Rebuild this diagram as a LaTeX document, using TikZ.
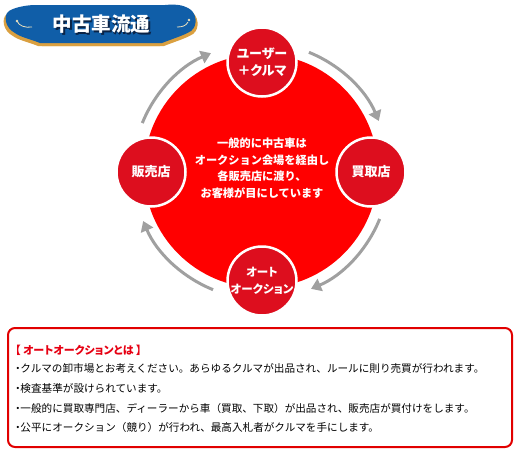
\documentclass[tikz,border=0pt]{standalone}
\usepackage{fontspec}
\newfontfamily\jp[RawFeature=+palt]{Noto Sans CJK JP}
\newfontfamily\jpf{Noto Sans CJK JP}
\usetikzlibrary{arrows.meta}
\definecolor{bigred}{RGB}{255,0,0}
\definecolor{crimson}{RGB}{221,14,30}
\definecolor{arrgray}{RGB}{160,160,160}
\definecolor{boxred}{RGB}{225,0,0}
\definecolor{titlered}{RGB}{230,0,18}
\definecolor{bannerblue}{RGB}{16,94,168}
\definecolor{bannergold}{RGB}{218,160,64}
\definecolor{shadownavy}{RGB}{10,35,70}
\definecolor{swirl}{RGB}{235,225,190}
\newcommand{\bul}{{\jp ・}}
\tikzset{
  stagec/.style={circle, fill=crimson, draw=white, line width=2.5pt, minimum size=69pt, inner sep=0pt,
    text=white, align=center, font=\jp\bfseries\fontsize{13}{17}\selectfont},
  cyclearr/.style={draw=arrgray, line width=3pt, -{Triangle[length=10pt,width=13pt]}},
  bodyline/.style={anchor=west, inner sep=0pt, font=\jpf\fontsize{10.6}{12}\selectfont}
}
\def\bannerpath{(35,5) -- (165,5) .. controls (175,4) and (183,5) .. (188,8)
  .. controls (197,12) and (198,26) .. (191,31) .. controls (185,35) and (172,39) .. (162,43)
  -- (40,43) .. controls (30,39) and (20,37) .. (15,33) .. controls (5,28) and (3,15) .. (9,11)
  .. controls (15,7) and (28,5) .. (35,5) -- cycle}
\begin{document}
\begin{tikzpicture}[x=1pt,y=-1pt]
\useasboundingbox (0,0) rectangle (519,450);
% banner
\fill[bannergold, shift={(-2,3)}] \bannerpath;
\fill[bannergold, shift={(2,3)}] \bannerpath;
\fill[bannerblue] \bannerpath;
\fill[swirl] (17,21) circle[radius=1.4];
\draw[swirl, line width=0.8pt] (17,21) .. controls (19,26) and (25,28) .. (32,27);
\fill[swirl] (189,20) circle[radius=1.4];
\draw[swirl, line width=0.8pt] (188,22) .. controls (186,26) and (182,27) .. (177,27);
\node[text=shadownavy, font=\jp\bfseries\fontsize{19.5}{19.5}\selectfont] (titleshadow) at (103,26) {中古車流通};
\node[text=white, font=\jp\bfseries\fontsize{19.5}{19.5}\selectfont] (title) at (101.5,24.5) {中古車流通};
% big circle
\coordinate (c) at (261,171);
\fill[bigred] (c) circle[radius=117];
% cycle arrows
\foreach \a in {-158,-68,22,112}
  \draw[cyclearr] ([shift={(\a:128)}]c) arc[start angle=\a, delta angle=45, radius=128];
% stage circles
\node[stagec] (user) at (262,62) {ユーザー\\＋クルマ};
\node[stagec] (buy) at (371,172) {買取店};
\node[stagec, font=\jp\bfseries\fontsize{11.5}{17}\selectfont] (auction) at (262,281) {オート\\オークション};
\node[stagec] (sell) at (151,172) {販売店};
% center text
\node[text=white, align=center, font=\jpf\bfseries\fontsize{11.2}{16.5}\selectfont] (centre) at (262,168)
  {一般的に中古車は\\オークション会場を経由し\\各販売店に渡り、\\お客様が目にしています};
% info box
\draw[boxred, line width=2pt, rounded corners=7pt] (8,328) rectangle (512,447);
\node[bodyline, text=titlered, font=\jp\bfseries\fontsize{11}{12}\selectfont] (boxtitle) at (15,350) {【 オートオークションとは 】};
\node[bodyline] (l1) at (15,368) {\bul クルマの卸市場とお考えください。あらゆるクルマが出品され、ルールに則り売買が行われます。};
\node[bodyline] (l2) at (15,388) {\bul 検査基準が設けられています。};
\node[bodyline] (l3) at (15,408) {\bul 一般的に買取専門店、ディーラーから車（買取、下取）が出品され、販売店が買付けをします。};
\node[bodyline] (l4) at (15,427) {\bul 公平にオークション（競り）が行われ、最高入札者がクルマを手にします。};
\end{tikzpicture}
\end{document}
